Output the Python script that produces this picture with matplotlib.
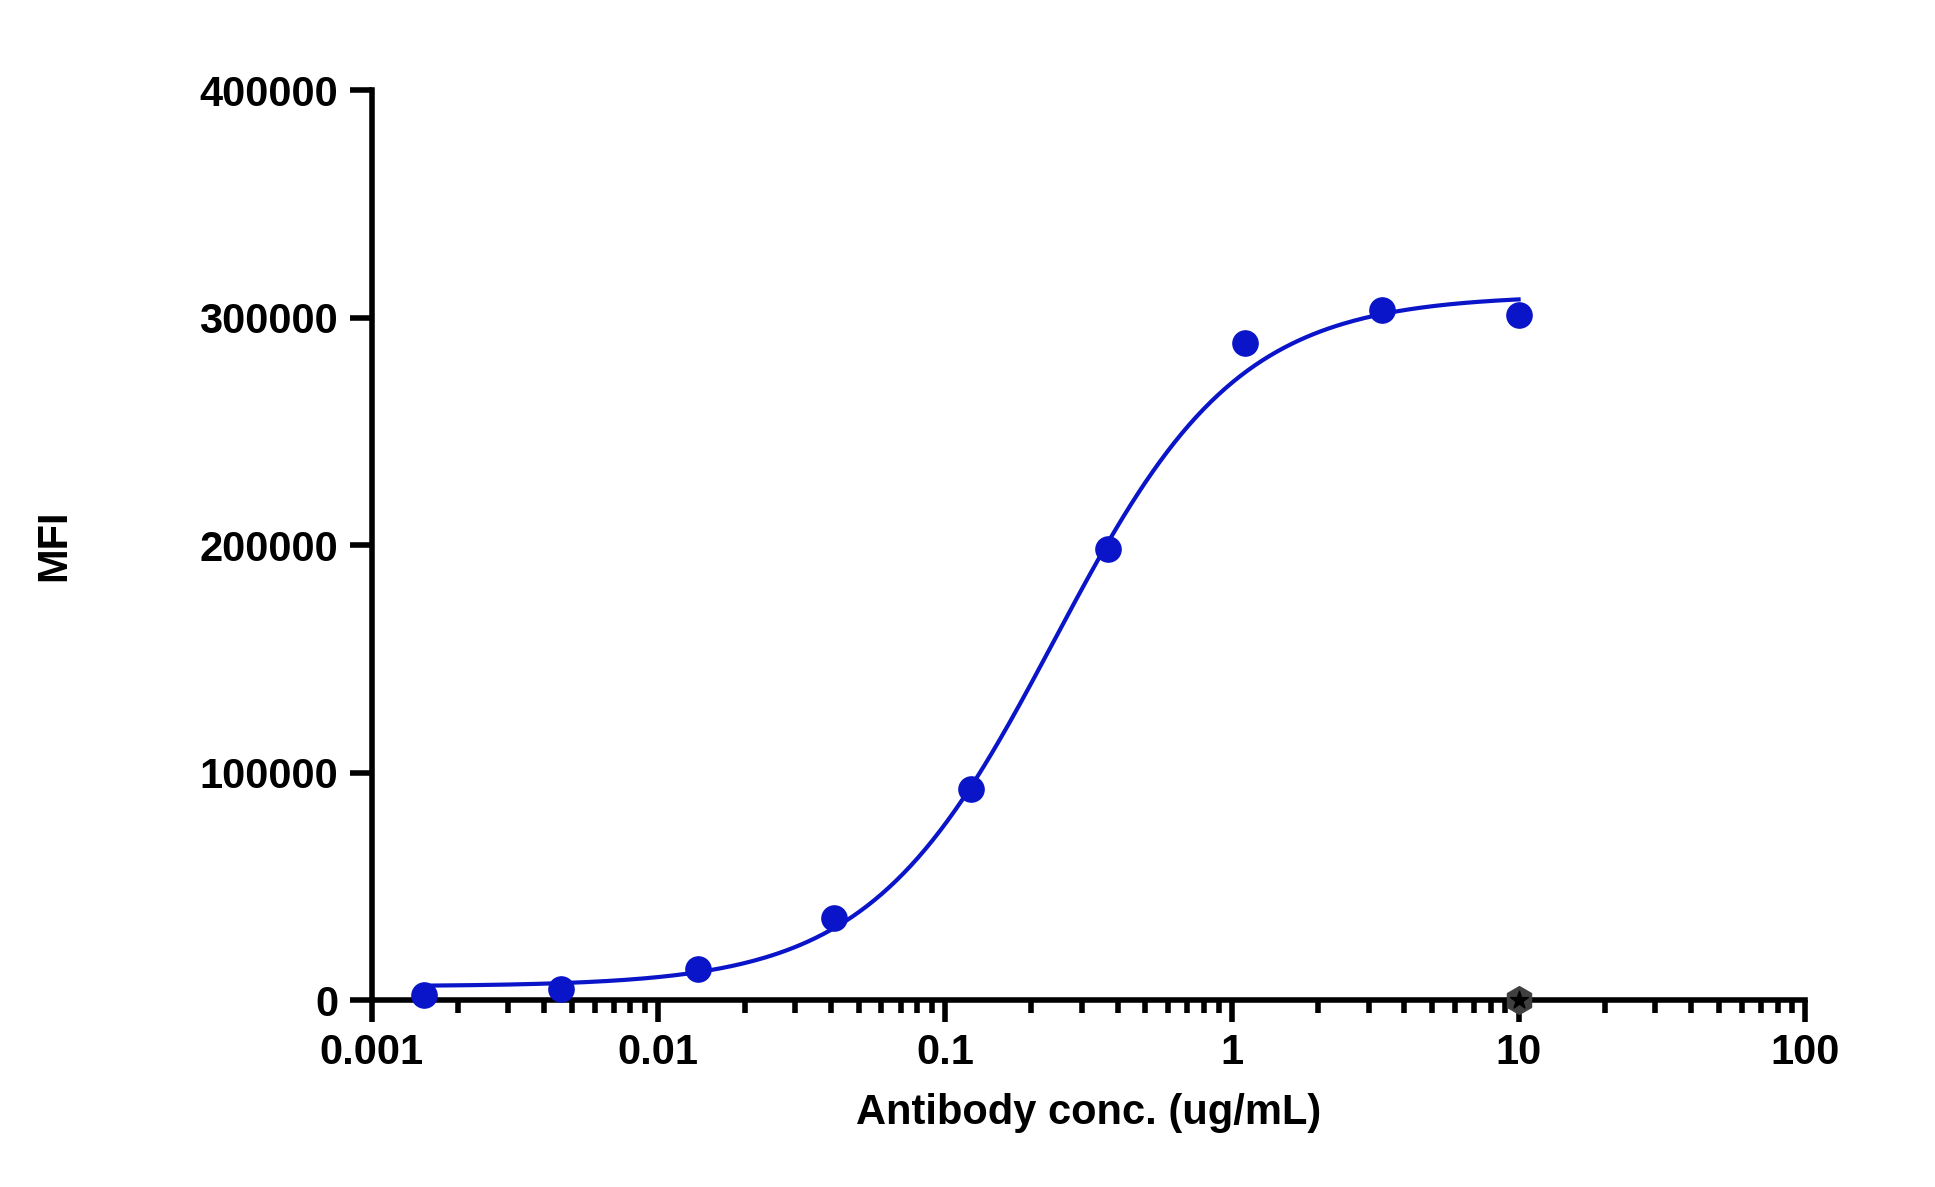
import numpy as np
import matplotlib
matplotlib.use("Agg")
import matplotlib.pyplot as plt
from matplotlib.ticker import LogLocator, FixedLocator, NullFormatter

conc = [10, 3.333, 1.111, 0.3704, 0.1235, 0.04115, 0.01372, 0.004572, 0.001524]
mfi = [301000, 303500, 289000, 198500, 93000, 36000, 13500, 5000, 2000]
ctrl_x = [10]
ctrl_y = [0]
fit_bottom, fit_top, fit_ec50, fit_hill = 6000, 310000, 0.24, 1.35
xticks = [0.001, 0.01, 0.1, 1, 10, 100]
xticklabels = ["0.001", "0.01", "0.1", "1", "10", "100"]
yticks = [0, 100000, 200000, 300000, 400000]
yticklabels = ["0", "100000", "200000", "300000", "400000"]

plt.rcParams['font.family'] = ['Liberation Sans', 'DejaVu Sans']
plt.rcParams['font.weight'] = 'bold'
fig = plt.figure(figsize=(19.35, 11.87), dpi=100)
ax = fig.add_axes([0.192, 0.1575, 0.741, 0.7665])
blue = '#0a14c8'
xs = np.logspace(np.log10(min(conc)), np.log10(max(conc)), 300)
ys = fit_bottom + (fit_top - fit_bottom) / (1 + (fit_ec50 / xs) ** fit_hill)
ax.plot(xs, ys, color=blue, lw=3, zorder=3)
ax.scatter(conc, mfi, s=330, color=blue, zorder=4, clip_on=False)
ax.scatter(ctrl_x, ctrl_y, s=400, marker='h', color='#404040', zorder=5, clip_on=False)
ax.scatter(ctrl_x, ctrl_y, s=180, marker='*', color='black', zorder=6, clip_on=False)
ax.set_xscale('log')
ax.set_xlim(0.001, 100)
ax.set_ylim(0, 400000)
ax.set_xticks(xticks)
ax.set_xticklabels(xticklabels)
ax.xaxis.set_minor_locator(LogLocator(base=10, subs=np.arange(2, 10)))
ax.xaxis.set_minor_formatter(NullFormatter())
ax.set_yticks(yticks)
ax.set_yticklabels(yticklabels)
for s in ['top', 'right']:
    ax.spines[s].set_visible(False)
for s in ['left', 'bottom']:
    ax.spines[s].set_linewidth(4)
ax.tick_params(axis='both', which='major', width=4, length=16, labelsize=30, pad=8)
ax.tick_params(axis='x', which='minor', width=4, length=9)
ax.set_xlabel('Antibody conc. (ug/mL)', fontsize=30, fontweight='bold', labelpad=14)
ax.set_ylabel('MFI', fontsize=30, fontweight='bold', labelpad=90)
for l in ax.get_xticklabels() + ax.get_yticklabels():
    l.set_fontweight('bold')
fig.savefig('out.png', dpi=100)
